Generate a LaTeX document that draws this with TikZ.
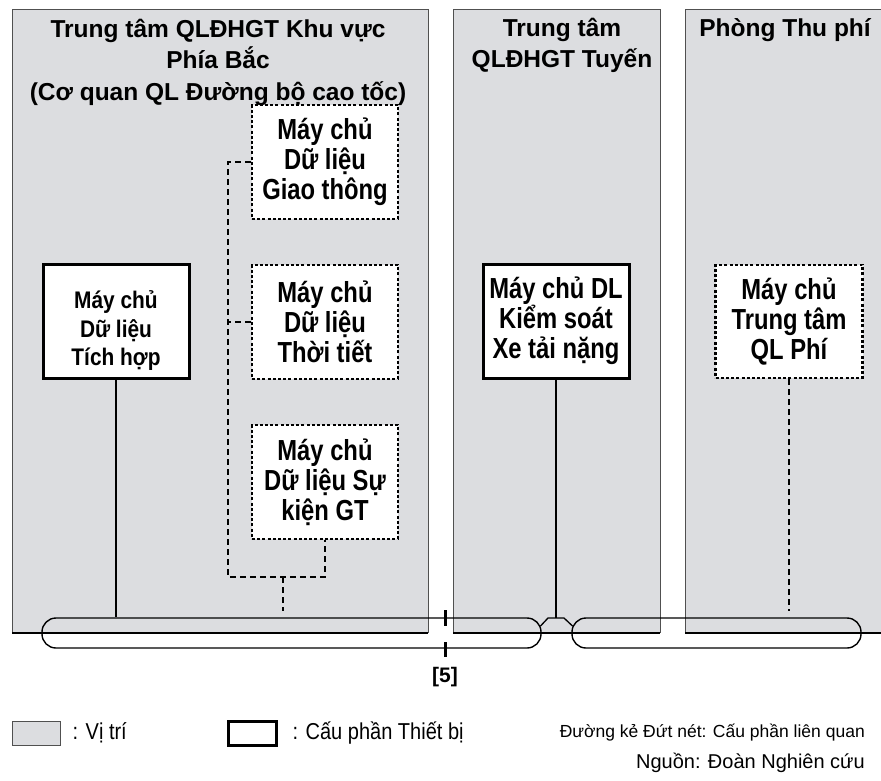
\documentclass[tikz,border=0pt]{standalone}
\usepackage{fontspec}
\setmainfont{Liberation Sans}
\newfontfamily\narrowfont[FakeStretch=0.87]{Liberation Sans}
\newfontfamily\condfont[FakeStretch=0.82]{Liberation Sans}
\usetikzlibrary{positioning}

\definecolor{panelgray}{RGB}{220,221,224}
\definecolor{panelline}{RGB}{80,80,80}

\newcommand\ttlfont{\fontsize{24.5}{31.5}\selectfont\bfseries}
\newcommand\srvfont{\condfont\fontsize{29}{30}\selectfont\bfseries}
\newcommand\srvnarrow{\narrowfont\fontsize{24}{28.5}\selectfont\bfseries}
\newcommand\keyfont{\narrowfont\fontsize{23}{26}\selectfont}

\begin{document}
\begin{tikzpicture}[x=1pt, y=-1pt,
    paneledge/.style={draw=panelline, line width=1pt},
    panelfoot/.style={draw=black, line width=2.4pt},
    paneltitle/.style={font=\ttlfont, align=center, anchor=north, inner sep=0pt},
    srvsolid/.style={draw, line width=3pt, fill=white, minimum width=146pt,
                     minimum height=114pt, inner sep=0pt, align=center, font=\srvfont},
    srvdotted/.style={srvsolid, line width=2.8pt, dash pattern=on 3pt off 2.2pt},
    link/.style={line width=1.3pt},
    dashlink/.style={line width=1.2pt, dash pattern=on 6pt off 4pt},
    bus/.style={draw, line width=1.4pt, rounded corners=14pt, minimum height=30pt, inner sep=0pt},
    tick/.style={line width=3pt}]
  \useasboundingbox (0,0) rectangle (881,780);

  % khu vuc (panels)
  \fill[panelgray] (12,9) rectangle (428,633);
  \draw[paneledge] (12,633) -- (12,9) -- (428,9) -- (428,633);
  \draw[panelfoot] (12,633) -- (428,633);
  \fill[panelgray] (453,9) rectangle (660,633);
  \draw[paneledge] (453,633) -- (453,9) -- (660,9) -- (660,633);
  \draw[panelfoot] (453,633) -- (660,633);
  \fill[panelgray] (685,9) rectangle (881,633);
  \draw[paneledge] (685,633) -- (685,9) -- (881,9);
  \draw[panelfoot] (685,633) -- (881,633);

  % may chu
  \node[srvsolid] (tich) at (116,321) {};
  \node[font=\srvnarrow, align=center, inner sep=0pt] (tichtext) at ([yshift=-10pt]tich.center) {Máy chủ\\Dữ liệu\\Tích hợp};
  \node[srvdotted] (giao) at (325,162) {Máy chủ\\Dữ liệu\\Giao thông};
  \node[srvdotted] (thoitiet) at (325,322) {Máy chủ\\Dữ liệu\\Thời tiết};
  \node[srvdotted] (sukien) at (325,482) {Máy chủ\\Dữ liệu Sự\\kiện GT};
  \node[srvsolid] (xetai) at (556,321) {Máy chủ DL\\Kiểm soát\\Xe tải nặng};
  \node[srvdotted, minimum width=147pt, minimum height=113pt] (qlphi) at (789,321.5) {Máy chủ\\Trung tâm\\QL Phí};

  \node[paneltitle] (ttlbac) at (218,19) {Trung tâm QLĐHGT Khu vực\\Phía Bắc\\(Cơ quan QL Đường bộ cao tốc)};
  \node[paneltitle] (ttltuyen) at (562,18) {Trung tâm\\QLĐHGT Tuyến};
  \node[paneltitle] (ttlphi) at (785,18) {Phòng Thu phí};

  % mang
  \node[bus, minimum width=499pt] (busL) at (291.5,633) {};
  \node[bus, minimum width=289pt] (busR) at (716.5,633) {};
  \coordinate (brL) at (540.5,626);
  \coordinate (brTop) at (556,618);
  \coordinate (brR) at (572.5,626);
  \draw[link] (brL) -- (548,618) -- (564,618) -- (brR);

  \draw[link] (tich.south) -- (tich.south |- busL.north);
  \draw[link] (xetai.south) -- (brTop);
  \draw[dashlink, shorten >=6pt] (qlphi.south) -- (qlphi.south |- busR.north);

  \coordinate (trunk) at (228,162);
  \coordinate (junc) at (283,577);
  \draw[dashlink] (giao.west) -- (trunk) -- (trunk |- junc) -- (junc) -| (sukien.south);
  \draw[dashlink] (thoitiet.west) -- (thoitiet.west -| trunk);
  \draw[dashlink, shorten >=6pt] (junc) -- (junc |- busL.north);

  % ranh gioi
  \coordinate (mark) at (445,633);
  \draw[tick] ([yshift=23pt]mark) -- ([yshift=7pt]mark);
  \draw[tick] ([yshift=-9pt]mark) -- ([yshift=-24pt]mark);
  \node[font=\fontsize{21}{22}\selectfont\bfseries] (ref) at (445,677) {[5]};

  % chu giai
  \node[draw=panelline, line width=1pt, fill=panelgray, minimum width=48pt, minimum height=24pt, inner sep=0pt] (keyloc) at (36,733) {};
  \node[font=\keyfont, anchor=west, inner sep=0pt] (keyloctext) at ([xshift=12pt]keyloc.east) {: Vị trí};
  \node[draw, line width=3pt, fill=white, minimum width=48pt, minimum height=24pt, inner sep=0pt] (keydev) at (252,733) {};
  \node[font=\keyfont, anchor=west, inner sep=0pt] (keydevtext) at ([xshift=15pt]keydev.east) {: Cấu phần Thiết bị};
  \node[font=\fontsize{17.5}{20}\selectfont, anchor=east, inner sep=0pt] (keydash) at (865,733) {Đường kẻ Đứt nét: Cấu phần liên quan};
  \node[font=\fontsize{20}{22}\selectfont, anchor=east, inner sep=0pt] (source) at (865,763) {Nguồn: Đoàn Nghiên cứu};
\end{tikzpicture}
\end{document}
